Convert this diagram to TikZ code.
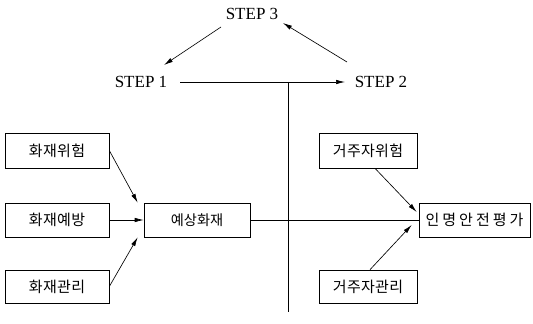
\documentclass[tikz,border=0pt]{standalone}
\usepackage{fontspec}
\setmainfont{Liberation Serif}
\newfontfamily\korsp{Noto Sans CJK KR}[LetterSpace=2]
\newfontfamily\kornarrow{Noto Sans CJK KR}
\newfontfamily\korwide{Noto Sans CJK KR}[LetterSpace=20]
\usepackage{tikz}
\usetikzlibrary{positioning}
\usetikzlibrary{arrows.meta}

\begin{document}
\begin{tikzpicture}[x=1pt,y=1pt,line width=0.65pt,
    steplabel/.style={inner sep=4pt,font=\fontsize{17}{20}\selectfont},
    factor/.style={draw=black,inner sep=0pt,minimum height=34pt,font=\fontsize{15}{17}\selectfont}]
    \useasboundingbox (0,0) rectangle (533,324);
    \node (step3)[steplabel] at (252, 310) {STEP 3};
    \node (step1)[steplabel] at (141, 242) {STEP 1};
    \node (step2)[steplabel] at (381, 242) {STEP 2};

    \node (firerisk)[factor,minimum width=104pt,minimum height=35pt] at (57, 173.5) {\korsp 화재위험};
    \node (fireprev)[factor,minimum width=104pt] at (57, 104) {\korsp 화재예방};
    \node (firemgmt)[factor,minimum width=104pt,minimum height=33pt] at (57, 37.5) {\korsp 화재관리};
    \node (expfire)[factor,minimum width=106pt,font=\fontsize{14.2}{16}\selectfont] at (197, 104) {\kornarrow 예상화재};
    \node (safety)[factor,minimum width=111pt] at (474.5, 104) {\korwide 인명안전평가};
    \node (occrisk)[factor,minimum width=98pt,minimum height=35pt] at (368, 173.5) {\korsp 거주자위험};
    \node (occmgmt)[factor,minimum width=98pt,minimum height=33pt] at (368, 37.5) {\korsp 거주자관리};

    \coordinate (axtop) at (288, 242);
    \coordinate (axbot) at (288, 12);

    \path [-{Latex[length=9pt,width=4.5pt]}] ([shift={(39,0)}]step1.center) edge ([shift={(-36,0)}]step2.center);
    \path [-{Latex[length=9pt,width=4.5pt]}] ([shift={(-31,-13)}]step3.center) edge ([shift={(23,17)}]step1.center);
    \path [-{Latex[length=9pt,width=4.5pt]}] ([shift={(-34,20)}]step2.center) edge ([shift={(31,-9)}]step3.center);
    \draw (axtop) -- (axbot);

    \path [-{Latex[length=9pt,width=4.5pt]}] (firerisk.east) edge ([xshift=-6pt]expfire.north west);
    \path [-{Latex[length=9pt,width=4.5pt]}] (fireprev.east) edge (expfire.west);
    \path [-{Latex[length=9pt,width=4.5pt]}] (firemgmt.east) edge ([xshift=-6pt]expfire.south west);
    \draw (expfire.east) -- (safety.west);

    \path [-{Latex[length=9pt,width=4.5pt]}] ([xshift=7pt]occrisk.south) edge ([shift={(-2,8)}]safety.west);
    \path [-{Latex[length=9pt,width=4.5pt]}] ([xshift=2pt]occmgmt.north) edge ([shift={(-7,-5)}]safety.west);
\end{tikzpicture}
\end{document}
